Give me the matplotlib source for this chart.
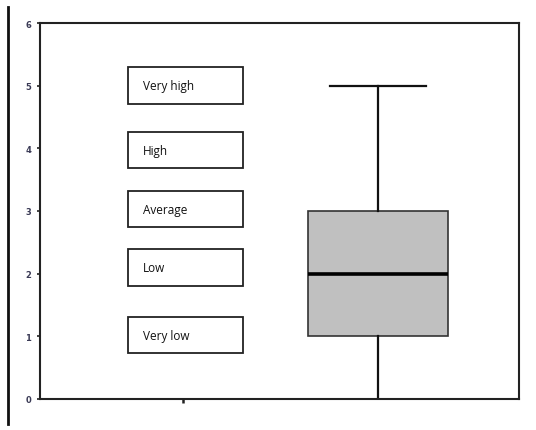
import matplotlib
matplotlib.use("Agg")
import matplotlib.pyplot as plt
from matplotlib.lines import Line2D

# Data
box_stats = {"whislo": 0, "q1": 1, "med": 2, "q3": 3, "whishi": 5}
category_labels = ["Very high", "High", "Average", "Low", "Very low"]
category_levels = [5.0, 3.97, 3.03, 2.1, 1.02]
y_ticks = [0, 1, 2, 3, 4, 5, 6]

W, H = 536, 431
fig = plt.figure(figsize=(W / 100, H / 100), dpi=100)
fig.patch.set_facecolor("white")
ax = fig.add_axes([40 / W, 1 - 400 / H, 479 / W, 376 / H])

stats = [dict(box_stats, fliers=[], label="")]
arts = ax.bxp(stats, positions=[2], widths=0.718, capwidths=[0.497], patch_artist=True,
              showfliers=False,
              boxprops=dict(facecolor="#c0c0c0", edgecolor="#333333", linewidth=1.2),
              whiskerprops=dict(color="#111111", linewidth=1.6),
              capprops=dict(color="#111111", linewidth=1.6),
              medianprops=dict(color="#000000", linewidth=2.6))
arts["caps"][0].set_visible(False)

ax.set_xlim(0.267, 2.723)
ax.set_ylim(0, 6)
ax.set_yticks(y_ticks)
ax.set_yticklabels([str(t) for t in y_ticks], fontsize=6, fontweight="bold",
                   color="#3a3a55")
ax.set_xticks([1])
ax.set_xticklabels([""])
ax.tick_params(axis="y", length=2.5, width=1.2, color="#222222", pad=4)
ax.tick_params(axis="x", length=3, width=1.8, color="#222222", direction="out")
for s in ax.spines.values():
    s.set_linewidth(1.5)
    s.set_color("#222222")

# category label boxes
for lab, lev in zip(category_labels, category_levels):
    ax.text(0.718 + 0.077, lev, lab, fontsize=8.5, family="Open Sans",
            ha="left", va="center", color="#111111", zorder=5)
    ax.add_patch(plt.Rectangle((0.718, lev - 0.29), 0.59, 0.58,
                               facecolor="white", edgecolor="#222222",
                               linewidth=1.3, zorder=4))

# left vertical line
fig.add_artist(Line2D([8 / W, 8 / W], [1 - 425 / H, 1 - 8 / H],
                      color="#111111", linewidth=2))

fig.savefig("out.png", dpi=100)
